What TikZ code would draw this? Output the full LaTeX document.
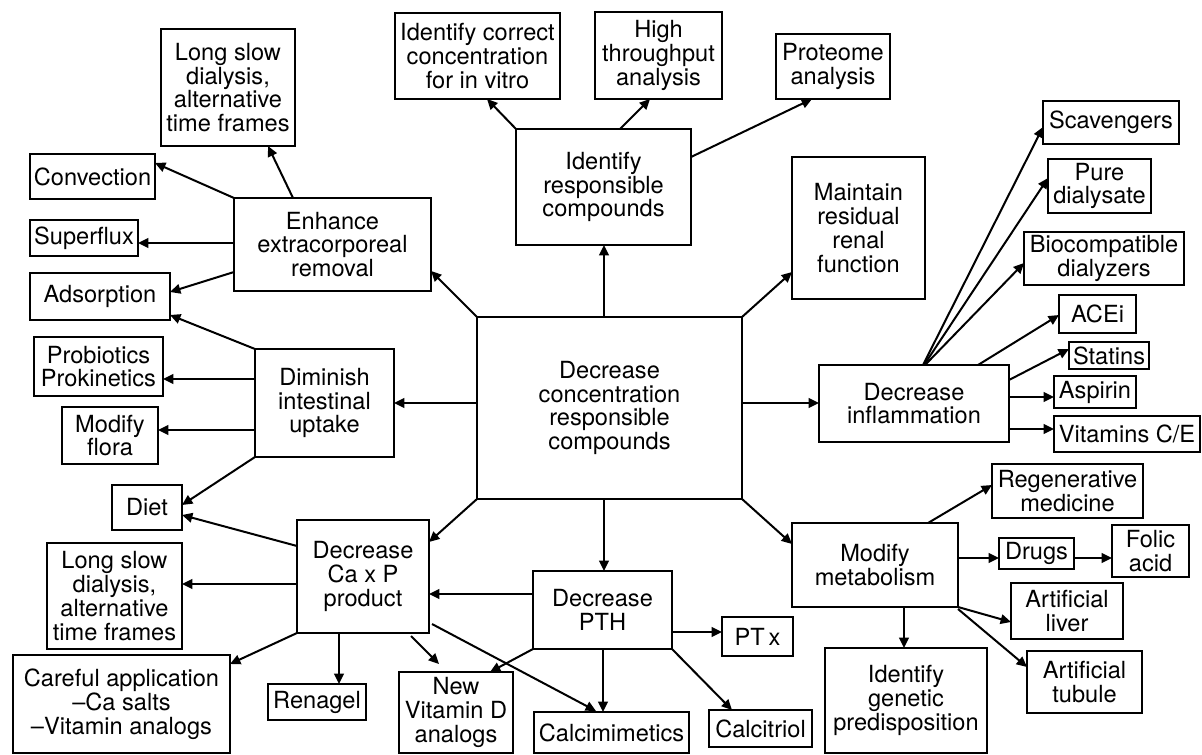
\documentclass[tikz,border=0pt]{standalone}
\usepackage{fontspec}
\setmainfont{TeX Gyre Heros}
\usetikzlibrary{calc,arrows.meta}
\tikzset{
  bx/.style={draw, line width=1pt, inner sep=0pt, outer sep=0pt, align=center,
    font=\fontsize{11.8}{11.9}\selectfont},
  arr/.style={line width=1pt, -{Triangle[length=5.2pt,width=4.8pt]}},
}
\newcommand\mybox[6]{%
  \pgfmathsetmacro\bw{(#4-#2)*0.5}%
  \pgfmathsetmacro\bh{(#5-#3)*0.5}%
  \pgfmathsetmacro\bcx{(#2+#4)/2}%
  \pgfmathsetmacro\bcy{(#3+#5)/2}%
  \node[bx, minimum width=\bw pt, minimum height=\bh pt] (#1) at (\bcx,\bcy) {#6};}
\begin{document}
\begin{tikzpicture}[x=0.5pt,y=-0.5pt]
\useasboundingbox (0,0) rectangle (1202,754);
% boxes
\mybox{lsda}{161}{29}{295}{146}{Long slow\\dialysis,\\alternative\\time frames}
\mybox{conv}{30}{154}{155}{199}{Convection}
\mybox{supf}{30}{220}{138}{256}{Superflux}
\mybox{enh}{234}{198}{431}{291}{Enhance\\extracorporeal\\removal}
\mybox{ads}{30}{273}{170}{320}{Adsorption}
\mybox{prob}{34}{337}{163}{396}{Probiotics\\Prokinetics}
\mybox{dim}{255}{349}{394}{457}{Diminish\\intestinal\\uptake}
\mybox{flora}{62}{407}{158}{464}{Modify\\flora}
\mybox{diet}{112}{485}{182}{530}{Diet}
\mybox{lsdb}{47}{543}{182}{649}{Long slow\\dialysis,\\alternative\\time frames}
\mybox{cap}{297}{520}{429}{633}{Decrease\\Ca x P\\product}
\mybox{care}{13}{655}{230}{753}{Careful application\\\textendash Ca salts\\\textendash Vitamin analogs}
\mybox{ren}{268}{684}{366}{720}{Renagel}
\mybox{nvd}{399}{672}{513}{753}{New\\Vitamin D\\analogs}
\mybox{ctr}{477}{317}{742}{499}{Decrease\\concentration\\responsible\\compounds}
\mybox{pth}{533}{571}{672}{649}{Decrease\\PTH}
\mybox{ptx}{722}{617}{793}{656}{PT\,x}
\mybox{calm}{534}{712}{689}{753}{Calcimimetics}
\mybox{calt}{709}{710}{812}{747}{Calcitriol}
\mybox{idr}{516}{129}{691}{245}{Identify\\responsible\\compounds}
\mybox{idc}{395}{13}{560}{99}{Identify correct\\concentration\\for in vitro}
\mybox{hta}{595}{12}{722}{99}{High\\throughput\\analysis}
\mybox{prot}{776}{34}{890}{99}{Proteome\\analysis}
\mybox{mrr}{792}{157}{925}{299}{Maintain\\residual\\renal\\function}
\mybox{scav}{1043}{101}{1179}{144}{Scavengers}
\mybox{pure}{1048}{159}{1151}{213}{Pure\\dialysate}
\mybox{bio}{1024}{232}{1184}{285}{Biocompatible\\dialyzers}
\mybox{ace}{1059}{295}{1136}{333}{ACEi}
\mybox{stat}{1069}{342}{1149}{369}{Statins}
\mybox{asp}{1054}{376}{1136}{408}{Aspirin}
\mybox{vit}{1054}{416}{1200}{452}{Vitamins C/E}
\mybox{infl}{819}{365}{1009}{442}{Decrease\\inflammation}
\mybox{mm}{792}{523}{958}{607}{Modify\\metabolism}
\mybox{regen}{992}{464}{1143}{518}{Regenerative\\medicine}
\mybox{drugs}{999}{538}{1074}{569}{Drugs}
\mybox{folic}{1112}{525}{1189}{577}{Folic\\acid}
\mybox{liver}{1011}{583}{1123}{639}{Artificial\\liver}
\mybox{tub}{1027}{651}{1142}{713}{Artificial\\tubule}
\mybox{gen}{825}{648}{987}{753}{Identify\\genetic\\predisposition}
% center
\draw[arr] ($(ctr.north -| idr.south)+(0.5,0)$) -- ($(idr.south)+(0.5,0)$);
\draw[arr] (ctr.north west) -- ($(enh.south east)+(0,-20)$);
\draw[arr] (ctr.west |- dim.east) -- (dim.east);
\draw[arr] ($(ctr.east |- infl.west)+(0,-0.5)$) -- ($(infl.west)+(0,-0.5)$);
\draw[arr] (ctr.north east) -- ($(mrr.south west)+(0,-27)$);
\draw[arr] (ctr.south west) -- ($(cap.north east)+(0,22)$);
\draw[arr] ($(ctr.south -| pth.north)+(1.5,0)$) -- ($(pth.north)+(1.5,0)$);
\draw[arr] (ctr.south east) -- ($(mm.north west)+(0,21)$);
% identify responsible
\draw[arr] (idr.north west) -- ($(idc.south west)+(92,0)$);
\draw[arr] ($(idr.north west)+(104,0)$) -- ($(hta.south west)+(55,0)$);
\draw[arr] ($(idr.north east)+(0,28)$) -- ($(prot.south west)+(36,0)$);
% enhance
\draw[arr] ($(enh.north west)+(59,0)$) -- ($(lsda.south west)+(107,0)$);
\draw[arr] (enh.north west) -- ($(conv.north east)+(0,9)$);
\draw[arr] ($(enh.north west)+(0,45)$) -- ($(supf.north east)+(0,23)$);
\draw[arr] ($(enh.south west)+(0,-19)$) -- ($(ads.north east)+(0,19)$);
% diminish
\draw[arr] (dim.north west) -- ($(ads.south east)+(0,-5)$);
\draw[arr] ($(dim.north west)+(0,30)$) -- ($(prob.north east)+(0,42)$);
\draw[arr] ($(dim.north west)+(0,81)$) -- ($(flora.north east)+(0,23)$);
\draw[arr] (dim.south west) -- ($(diet.north east)+(0,20)$);
% Ca x P
\draw[arr] ($(cap.north west)+(0,26)$) -- ($(diet.south east)+(0,-15)$);
\draw[arr] ($(cap.north west)+(0,64)$) -- ($(lsdb.north east)+(0,41)$);
\draw[arr] (cap.south west) -- ($(care.north east)+(0,9)$);
\draw[arr] ($(cap.south west)+(42,0)$) -- ($(ren.north west)+(71,0)$);
\draw[arr] ($(cap.south west)+(114,3)$) -- ($(nvd.north west)+(40,-8)$);
\draw[arr] ($(cap.north east)+(3,104)$) -- ($(calm.north west)+(62,-1)$);
% PTH
\draw[arr] ($(pth.north west)+(0,23)$) -- ($(cap.north east)+(0,74)$);
\draw[arr] (pth.south west) -- ($(nvd.north west)+(91,0)$);
\draw[arr] ($(pth.south west)+(70,0)$) -- ($(calm.north west)+(69,0)$);
\draw[arr] ($(pth.north east)+(0,61)$) -- ($(ptx.north west)+(0,15)$);
\draw[arr] (pth.south east) -- ($(calt.north west)+(23,0)$);
% inflammation
\draw[arr] ($(infl.north west)+(104,0)$) -- ($(scav.north west)+(0,26)$);
\draw[arr] ($(infl.north west)+(105,0)$) -- ($(pure.north west)+(0,19)$);
\draw[arr] ($(infl.north west)+(106,0)$) -- ($(bio.north west)+(0,31)$);
\draw[arr] ($(infl.north west)+(159,0)$) -- ($(ace.north west)+(0,20)$);
\draw[arr] ($(infl.north east)+(0,15)$) -- ($(stat.north west)+(0,7)$);
\draw[arr] ($(infl.north east)+(0,32)$) -- ($(asp.north west)+(0,21)$);
\draw[arr] ($(infl.north east)+(0,64)$) -- ($(vit.north west)+(0,13)$);
% metabolism
\draw[arr] ($(mm.north west)+(136,0)$) -- ($(regen.north west)+(0,21)$);
\draw[arr] ($(mm.north east)+(0,35)$) -- ($(drugs.north west)+(0,20)$);
\draw[arr] ($(drugs.north east)+(0,20)$) -- ($(folic.north west)+(0,33)$);
\draw[arr] (mm.south east) -- ($(liver.north west)+(0,39)$);
\draw[arr] ($(mm.south east)+(0,2)$) -- ($(tub.north west)+(0,16)$);
\draw[arr] ($(mm.south west)+(112,0)$) -- ($(gen.north west)+(79,0)$);
\end{tikzpicture}
\end{document}
